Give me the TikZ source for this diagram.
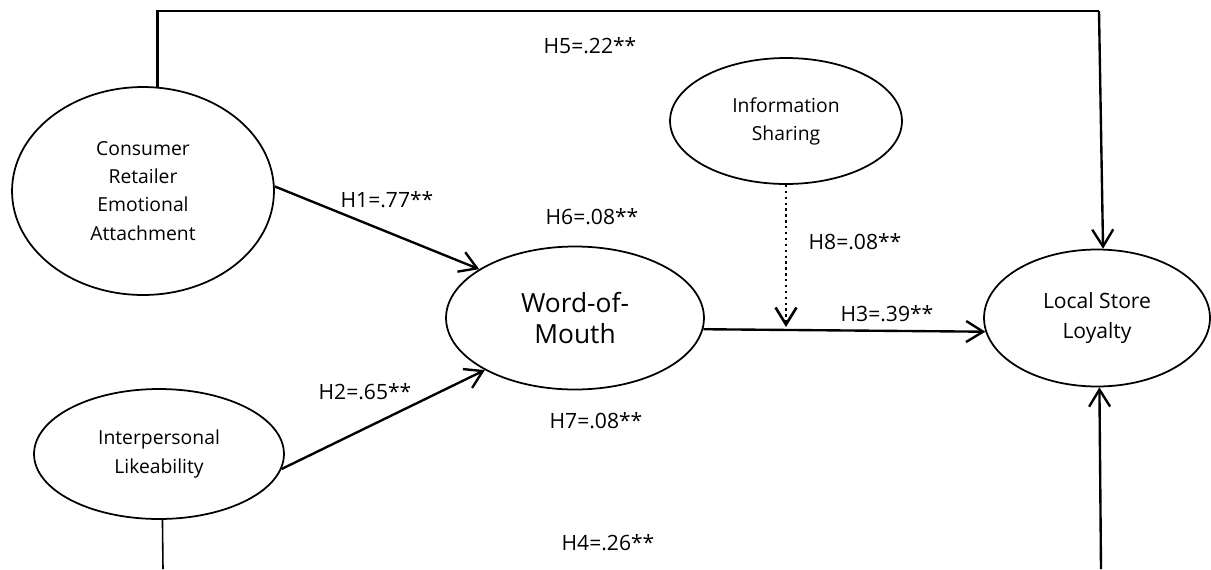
\documentclass[tikz,border=0pt]{standalone}
\usepackage{fontspec}
\setsansfont{Open Sans}
\usetikzlibrary{shapes.geometric,arrows.meta}

\begin{document}
\begin{tikzpicture}[
   x=0.02cm,y=-0.02cm,
   font=\sffamily\fontsize{11}{16}\selectfont,
   construct/.style={draw,line width=1pt,ellipse,inner sep=0pt,align=center},
   effect/.style={-{Straight Barb[length=3.4mm,width=4.2mm]},line width=1.35pt},
   link/.style={line width=1.35pt},
   coef/.style={font=\sffamily\fontsize{12}{14}\selectfont}]
\useasboundingbox (0,0) rectangle (1211,569);
\node[construct,minimum width=5.24cm,minimum height=4.16cm] (CREA) at (143,191) {Consumer\\Retailer\\Emotional\\Attachment};
\node[construct,minimum width=5.0cm,minimum height=2.6cm] (IL) at (159,454) {Interpersonal\\Likeability};
\node[construct,minimum width=5.16cm,minimum height=2.86cm,font=\sffamily\fontsize{15}{18}\selectfont] (WOM) at (575,318) {Word-of-\\Mouth};
\node[construct,minimum width=4.64cm,minimum height=2.52cm] (IS) at (786,121) {Information\\Sharing};
\node[construct,minimum width=4.52cm,minimum height=2.74cm,font=\sffamily\fontsize{12}{17}\selectfont] (LSL) at (1097,318) {Local Store\\Loyalty};
\coordinate (topR) at (1099,11);
\coordinate (botL) at (163,569);
\coordinate (botR) at (1101,569);
\coordinate (H8end) at (IS.south |- 0,327);
\draw[effect] (CREA.2) to (WOM.153);
\draw[effect] (IL.-7) to (WOM.210);
\draw[effect] (WOM.-5) to (LSL.187);
\draw[effect,dotted,line width=1.5pt] (IS.south) to (H8end);
\draw[link] (CREA.82) |- (topR);
\draw[effect] (topR) to (LSL.85);
\draw[line width=0.9pt] (IL.-87) -- (botL);
\draw[effect] (botR) to (LSL.-88);
\node[coef] (H1) at (387,200) {H1=.77**};
\node[coef] (H2) at (365,392) {H2=.65**};
\node[coef] (H3) at (887,314) {H3=.39**};
\node[coef] (H4) at (608,543) {H4=.26**};
\node[coef] (H5) at (590,46) {H5=.22**};
\node[coef] (H6) at (592,217) {H6=.08**};
\node[coef] (H7) at (596,421) {H7=.08**};
\node[coef] (H8) at (855,242) {H8=.08**};
\end{tikzpicture}
\end{document}
